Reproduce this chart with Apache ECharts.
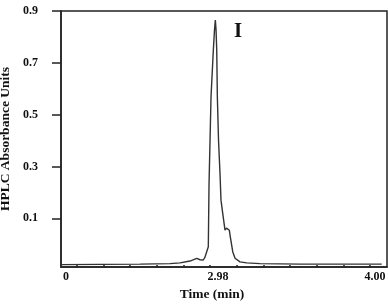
<!DOCTYPE html>
<html>
<head>
<meta charset="utf-8">
<script src="https://cdn.jsdelivr.net/npm/echarts@6/dist/echarts.min.js"></script>
<style>
  html, body { margin: 0; padding: 0; background: #fff; }
  #chart { width: 388px; height: 304px; }
</style>
</head>
<body>
<div id="chart"></div>
<script>
// trace (x in axis units, y in absorbance units)
var timeValues = [-0.065, 0.44, 0.958, 1.346, 1.476, 1.605, 1.692, 1.735, 1.777, 1.799, 1.821, 1.842,
  1.851, 1.877, 1.907, 1.922, 1.933, 1.942, 1.951, 1.959, 1.974, 1.994, 2.006, 2.028, 2.058, 2.078,
  2.101, 2.114, 2.123, 2.158, 2.188, 2.252, 2.339, 2.511, 3.029, 4.087];
var absorbance = [-0.079, -0.078, -0.077, -0.075, -0.072, -0.065, -0.055, -0.06, -0.061, -0.05, -0.029, -0.01,
  0.228, 0.568, 0.749, 0.827, 0.865, 0.827, 0.749, 0.568, 0.402, 0.267, 0.17, 0.12, 0.054, 0.062,
  0.067, 0.054, 0.035, -0.029, -0.054, -0.068, -0.072, -0.075, -0.077, -0.077];

var yTickValues = [0.1, 0.3, 0.5, 0.7, 0.9];
var xLabelValues = [0, 1.968, 4.0];
var xLabelTexts = ["0", "2.98", "4.00"];
var xTickValues = [0.139, 0.484, 0.829, 1.175, 1.52, 1.865, 2.21, 2.556, 2.901, 3.246, 3.591, 3.937];
var peakLabel = "I";

var chartDom = document.getElementById("chart");
var myChart = echarts.init(chartDom);

var serif = "'Liberation Serif', 'Times New Roman', serif";
var seriesData = timeValues.map(function (t, i) {
  return [t, absorbance[i]];
});

var option = {
  animation: false,
  grid: {
    left: 61,
    right: 1,
    top: 11,
    bottom: 37,
    show: true,
    borderColor: "#222",
    borderWidth: 1.5,
    outerBoundsMode: "none",
  },
  xAxis: {
    type: "value",
    min: -0.065,
    max: 4.155,
    name: "Time (min)",
    nameLocation: "middle",
    nameGap: 12,
    nameTextStyle: {
      fontFamily: serif,
      fontWeight: "bold",
      fontSize: 13.5,
      color: "#111",
      padding: [0, 24, 0, 0],
    },
    axisLine: { show: true, onZero: false, lineStyle: { color: "#222", width: 1.5 } },
    axisTick: {
      show: true,
      inside: true,
      length: 2,
      customValues: xTickValues,
      lineStyle: { color: "#222", width: 1.5 },
    },
    axisLabel: {
      customValues: xLabelValues,
      margin: 4,
      fontFamily: serif,
      fontWeight: "bold",
      fontSize: 12,
      color: "#111",
      formatter: function (v) {
        for (var i = 0; i < xLabelValues.length; i++) {
          if (Math.abs(xLabelValues[i] - v) < 1e-6) return xLabelTexts[i];
        }
        return "";
      },
    },
    splitLine: { show: false },
  },
  yAxis: {
    type: "value",
    min: -0.088,
    max: 0.9,
    name: "HPLC Absorbance Units",
    nameLocation: "middle",
    nameGap: 45,
    nameTextStyle: {
      fontFamily: serif,
      fontWeight: "bold",
      fontSize: 13.5,
      color: "#111",
    },
    axisLine: { show: true, onZero: false, lineStyle: { color: "#222", width: 1.5 } },
    axisTick: {
      show: true,
      length: 9,
      customValues: yTickValues,
      lineStyle: { color: "#222", width: 1.5 },
    },
    axisLabel: {
      customValues: yTickValues,
      margin: 23,
      fontFamily: serif,
      fontWeight: "bold",
      fontSize: 12,
      color: "#111",
      formatter: function (v) {
        return v.toFixed(1);
      },
    },
    splitLine: { show: false },
  },
  graphic: [
    {
      type: "text",
      x: 238,
      y: 32,
      style: {
        text: peakLabel,
        font: "bold 21px " + serif,
        fill: "#111",
        align: "center",
        verticalAlign: "middle",
      },
    },
  ],
  series: [
    {
      name: "trace",
      type: "line",
      showSymbol: false,
      data: seriesData,
      lineStyle: { color: "#333", width: 1.4 },
    },
  ],
};

option && myChart.setOption(option);
</script>
</body>
</html>
